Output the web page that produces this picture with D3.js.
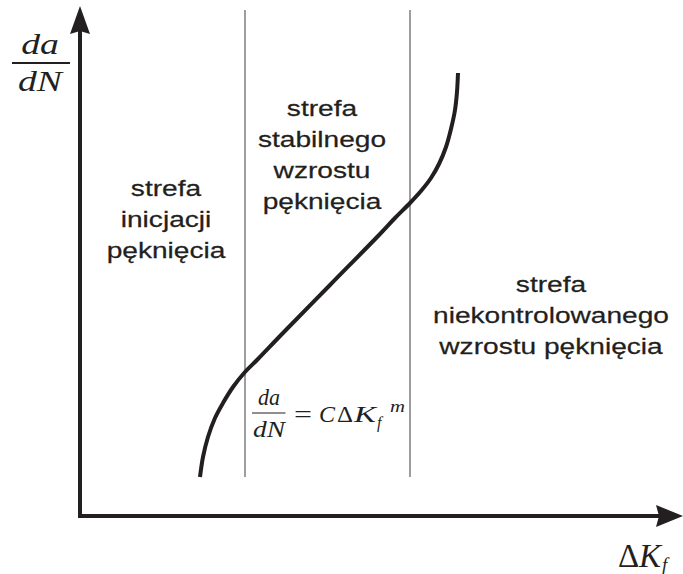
<!DOCTYPE html>
<html>
<head>
<meta charset="utf-8">
<script src="https://cdn.jsdelivr.net/npm/d3@7"></script>
<style>
  html, body { margin: 0; padding: 0; background: #fff; }
  svg { display: block; }
</style>
</head>
<body>
<svg id="chart" width="683" height="574"></svg>
<script>
// Crack growth rate curve (schematic), in arbitrary units
const deltaK     = [2.0, 2.05, 2.133, 2.25, 2.383, 2.55, 2.75, 2.95, 3.383, 4.167, 5.0, 5.25, 5.5, 5.683, 5.85, 5.983, 6.1, 6.183, 6.25, 6.283, 6.3];
const growthRate = [0.78, 1.18, 1.58, 1.96, 2.26, 2.58, 2.88, 3.12, 3.66, 4.62, 5.64, 5.96, 6.26, 6.5, 6.76, 7.04, 7.38, 7.74, 8.12, 8.48, 8.86];

// Zone boundaries along the ΔK axis
const zoneBounds = [2.75, 5.5];

// Zone descriptions (one entry per zone, one string per line)
const zoneLabels = [
  ["strefa", "inicjacji", "pęknięcia"],
  ["strefa", "stabilnego", "wzrostu", "pęknięcia"],
  ["strefa", "niekontrolowanego", "wzrostu pęknięcia"]
];

const svg = d3.select("#chart");

const x = d3.scaleLinear().domain([0, 10]).range([80, 680]);
const y = d3.scaleLinear().domain([0, 10]).range([516, 16]);

const ink = "#231f20";

// Zone separators
svg.selectAll("line.zone")
  .data(zoneBounds)
  .join("line")
  .attr("class", "zone")
  .attr("x1", d => x(d)).attr("x2", d => x(d))
  .attr("y1", 10).attr("y2", y(0.78))
  .attr("stroke", "#4d4d4f")
  .attr("stroke-width", 1.1);

// Axes with arrow heads
svg.append("line")
  .attr("x1", x(0)).attr("x2", x(0))
  .attr("y1", y(0) + 2).attr("y2", 30)
  .attr("stroke", ink).attr("stroke-width", 4);
svg.append("line")
  .attr("x1", x(0) - 2).attr("x2", 662)
  .attr("y1", y(0)).attr("y2", y(0))
  .attr("stroke", ink).attr("stroke-width", 4);
svg.append("path")
  .attr("d", `M${x(0)},6 L${x(0) + 10},34 L${x(0)},31 L${x(0) - 10},34 Z`)
  .attr("fill", ink);
svg.append("path")
  .attr("d", `M683,${y(0)} L656,${y(0) - 11} L659,${y(0)} L656,${y(0) + 11} Z`)
  .attr("fill", ink);

// The growth curve
const pts = deltaK.map((k, i) => [k, growthRate[i]]);
svg.append("path")
  .datum(pts)
  .attr("d", d3.line()
    .x(d => x(d[0]))
    .y(d => y(d[1]))
    .curve(d3.curveCatmullRom.alpha(0.5)))
  .attr("fill", "none")
  .attr("stroke", ink)
  .attr("stroke-width", 4)
  .attr("stroke-linecap", "butt");

// Zone labels
const labelPos = [
  { cx: 166, top: 196 },
  { cx: 322, top: 116 },
  { cx: 551, top: 292 }
];
const lineGap = 31;
zoneLabels.forEach((lines, i) => {
  const g = svg.append("g")
    .attr("transform", `translate(${labelPos[i].cx},${labelPos[i].top}) scale(1.25,1)`);
  g.selectAll("text")
    .data(lines)
    .join("text")
    .attr("x", 0)
    .attr("y", (d, j) => j * lineGap)
    .attr("text-anchor", "middle")
    .attr("font-family", "'Liberation Sans', Arial, sans-serif")
    .attr("font-size", 22.5)
    .attr("fill", ink)
    .attr("stroke", ink)
    .attr("stroke-width", 0.25)
    .text(d => d);
});

// Y axis title: da/dN
const serif = "'Liberation Serif', 'Times New Roman', serif";
const yt = svg.append("g").attr("transform", "translate(40,0) scale(1.3,1)");
yt.append("text").attr("x", 0).attr("y", 54)
  .attr("text-anchor", "middle").attr("font-family", serif)
  .attr("font-style", "italic").attr("font-size", 29).attr("fill", ink).text("da");
yt.append("text").attr("x", 0).attr("y", 91)
  .attr("text-anchor", "middle").attr("font-family", serif)
  .attr("font-style", "italic").attr("font-size", 29).attr("fill", ink).text("dN");
svg.append("line")
  .attr("x1", 12).attr("x2", 70).attr("y1", 63).attr("y2", 63)
  .attr("stroke", ink).attr("stroke-width", 2);

// X axis title: ΔK_f
const xt = svg.append("text")
  .attr("y", 567)
  .attr("font-family", serif).attr("font-size", 33).attr("fill", ink);
xt.append("tspan").attr("x", 618).text("Δ");
xt.append("tspan").attr("x", 639).attr("font-style", "italic").text("K");
xt.append("tspan").attr("x", 662).attr("font-style", "italic").attr("font-size", 19)
  .attr("dy", 4).text("f");

// Paris law formula
const fs = 24;
svg.append("text").attr("x", 269).attr("y", 405)
  .attr("text-anchor", "middle").attr("font-family", serif)
  .attr("font-style", "italic").attr("font-size", fs).attr("fill", ink)
  .attr("textLength", 22).attr("lengthAdjust", "spacingAndGlyphs").text("da");
svg.append("text").attr("x", 269).attr("y", 437)
  .attr("text-anchor", "middle").attr("font-family", serif)
  .attr("font-style", "italic").attr("font-size", fs).attr("fill", ink)
  .attr("textLength", 32).attr("lengthAdjust", "spacingAndGlyphs").text("dN");
svg.append("line").attr("x1", 252).attr("x2", 285.5).attr("y1", 413).attr("y2", 413)
  .attr("stroke", ink).attr("stroke-width", 1);
const rhs = svg.append("text").attr("y", 422)
  .attr("font-family", serif).attr("font-size", fs).attr("fill", ink);
rhs.append("tspan").attr("x", 294).attr("textLength", 18).attr("lengthAdjust", "spacingAndGlyphs").text("=");
rhs.append("tspan").attr("x", 319).attr("font-style", "italic")
  .attr("textLength", 16).attr("lengthAdjust", "spacingAndGlyphs").text("C");
rhs.append("tspan").attr("x", 337).attr("textLength", 16).attr("lengthAdjust", "spacingAndGlyphs").text("Δ");
rhs.append("tspan").attr("x", 354).attr("font-style", "italic")
  .attr("textLength", 22).attr("lengthAdjust", "spacingAndGlyphs").text("K");
rhs.append("tspan").attr("x", 377).attr("font-style", "italic").attr("font-size", 16)
  .attr("dy", 6).text("f");
rhs.append("tspan").attr("x", 390).attr("font-style", "italic").attr("font-size", 16)
  .attr("dy", -16).attr("textLength", 15).attr("lengthAdjust", "spacingAndGlyphs").text("m");
</script>
</body>
</html>
